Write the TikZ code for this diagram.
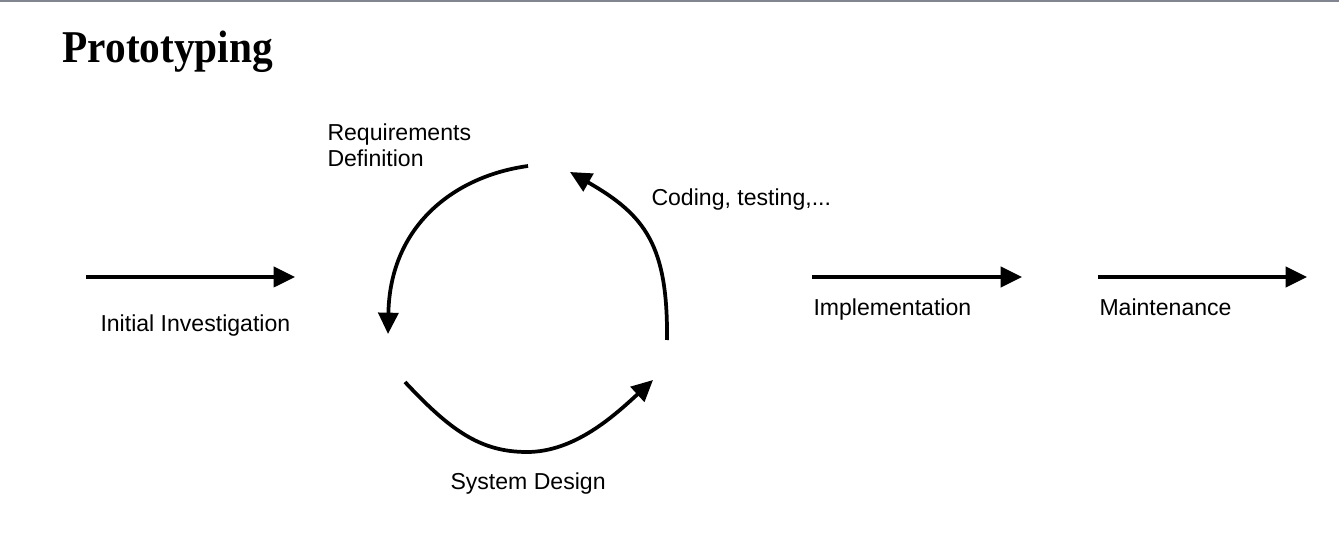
\documentclass[tikz,border=0pt]{standalone}
\usepackage{fontspec}
\setmainfont{Liberation Sans}
\newfontfamily\titlefont{Liberation Serif}
\usetikzlibrary{arrows.meta}

\tikzset{every picture/.style={line width=0.75pt}}
\tikzset{
  flow/.style={line width=2.8pt, -{Triangle[length=16pt,width=15pt]}},
  lbl/.style={anchor=base west, inner sep=0.75pt, font=\fontsize{17.3}{19.5}\selectfont, align=left}
}

\begin{document}
\begin{tikzpicture}[x=0.75pt,y=0.75pt,yscale=-1,xscale=1]
            \useasboundingbox (0,0) rectangle (1339,545);

            %Shape: Top rule
            \fill [color={rgb, 255:red, 128; green, 133; blue, 143 }] (0,0) rectangle (1339,2);

            % Title Node
            \node (title) at (62,63) [anchor=base west, inner sep=0pt] {\titlefont\bfseries\fontsize{31}{36}\selectfont\scalebox{1}[1.1]{Prototyping}};

            %Coordinates
            \coordinate (ii-s) at (86,277);   \coordinate (ii-e) at (295,277);
            \coordinate (im-s) at (812,277);  \coordinate (im-e) at (1022,277);
            \coordinate (mt-s) at (1098,277); \coordinate (mt-e) at (1307,277);
            \coordinate (rq-s) at (528,166);  \coordinate (rq-e) at (388,334);
            \coordinate (sd-s) at (405,382);  \coordinate (sd-m) at (527,452);  \coordinate (sd-e) at (653,380);
            \coordinate (cd-s) at (667,340);  \coordinate (cd-e) at (570,172);

            %Straight Lines
            \draw [flow] (ii-s) -- (ii-e);
            %Straight Lines
            \draw [flow] (im-s) -- (im-e);
            %Straight Lines
            \draw [flow] (mt-s) -- (mt-e);

            %Curve Lines
            \draw [flow] (rq-s) .. controls (455,176) and (390,225) .. (rq-e);
            %Curve Lines
            \draw [flow] (sd-s) .. controls (450,430) and (480,452) .. (sd-m) .. controls (575,452) and (615,415) .. (sd-e);
            %Curve Lines
            \draw [flow] (cd-s) .. controls (668,245) and (645,215) .. (cd-e);

            % Text Node
            \node (ii) at (99,332) [lbl] {Initial Investigation};
            % Text Node
            \node (rq) at (326,167) [lbl] {Requirements\\Definition};
            % Text Node
            \node (cd) at (650,206) [lbl] {Coding, testing,...};
            % Text Node
            \node (im) at (812,316) [lbl] {Implementation};
            % Text Node
            \node (mt) at (1098,316) [lbl] {Maintenance};
            % Text Node
            \node (sd) at (449,489) [lbl] {System Design};

\end{tikzpicture}
\end{document}
